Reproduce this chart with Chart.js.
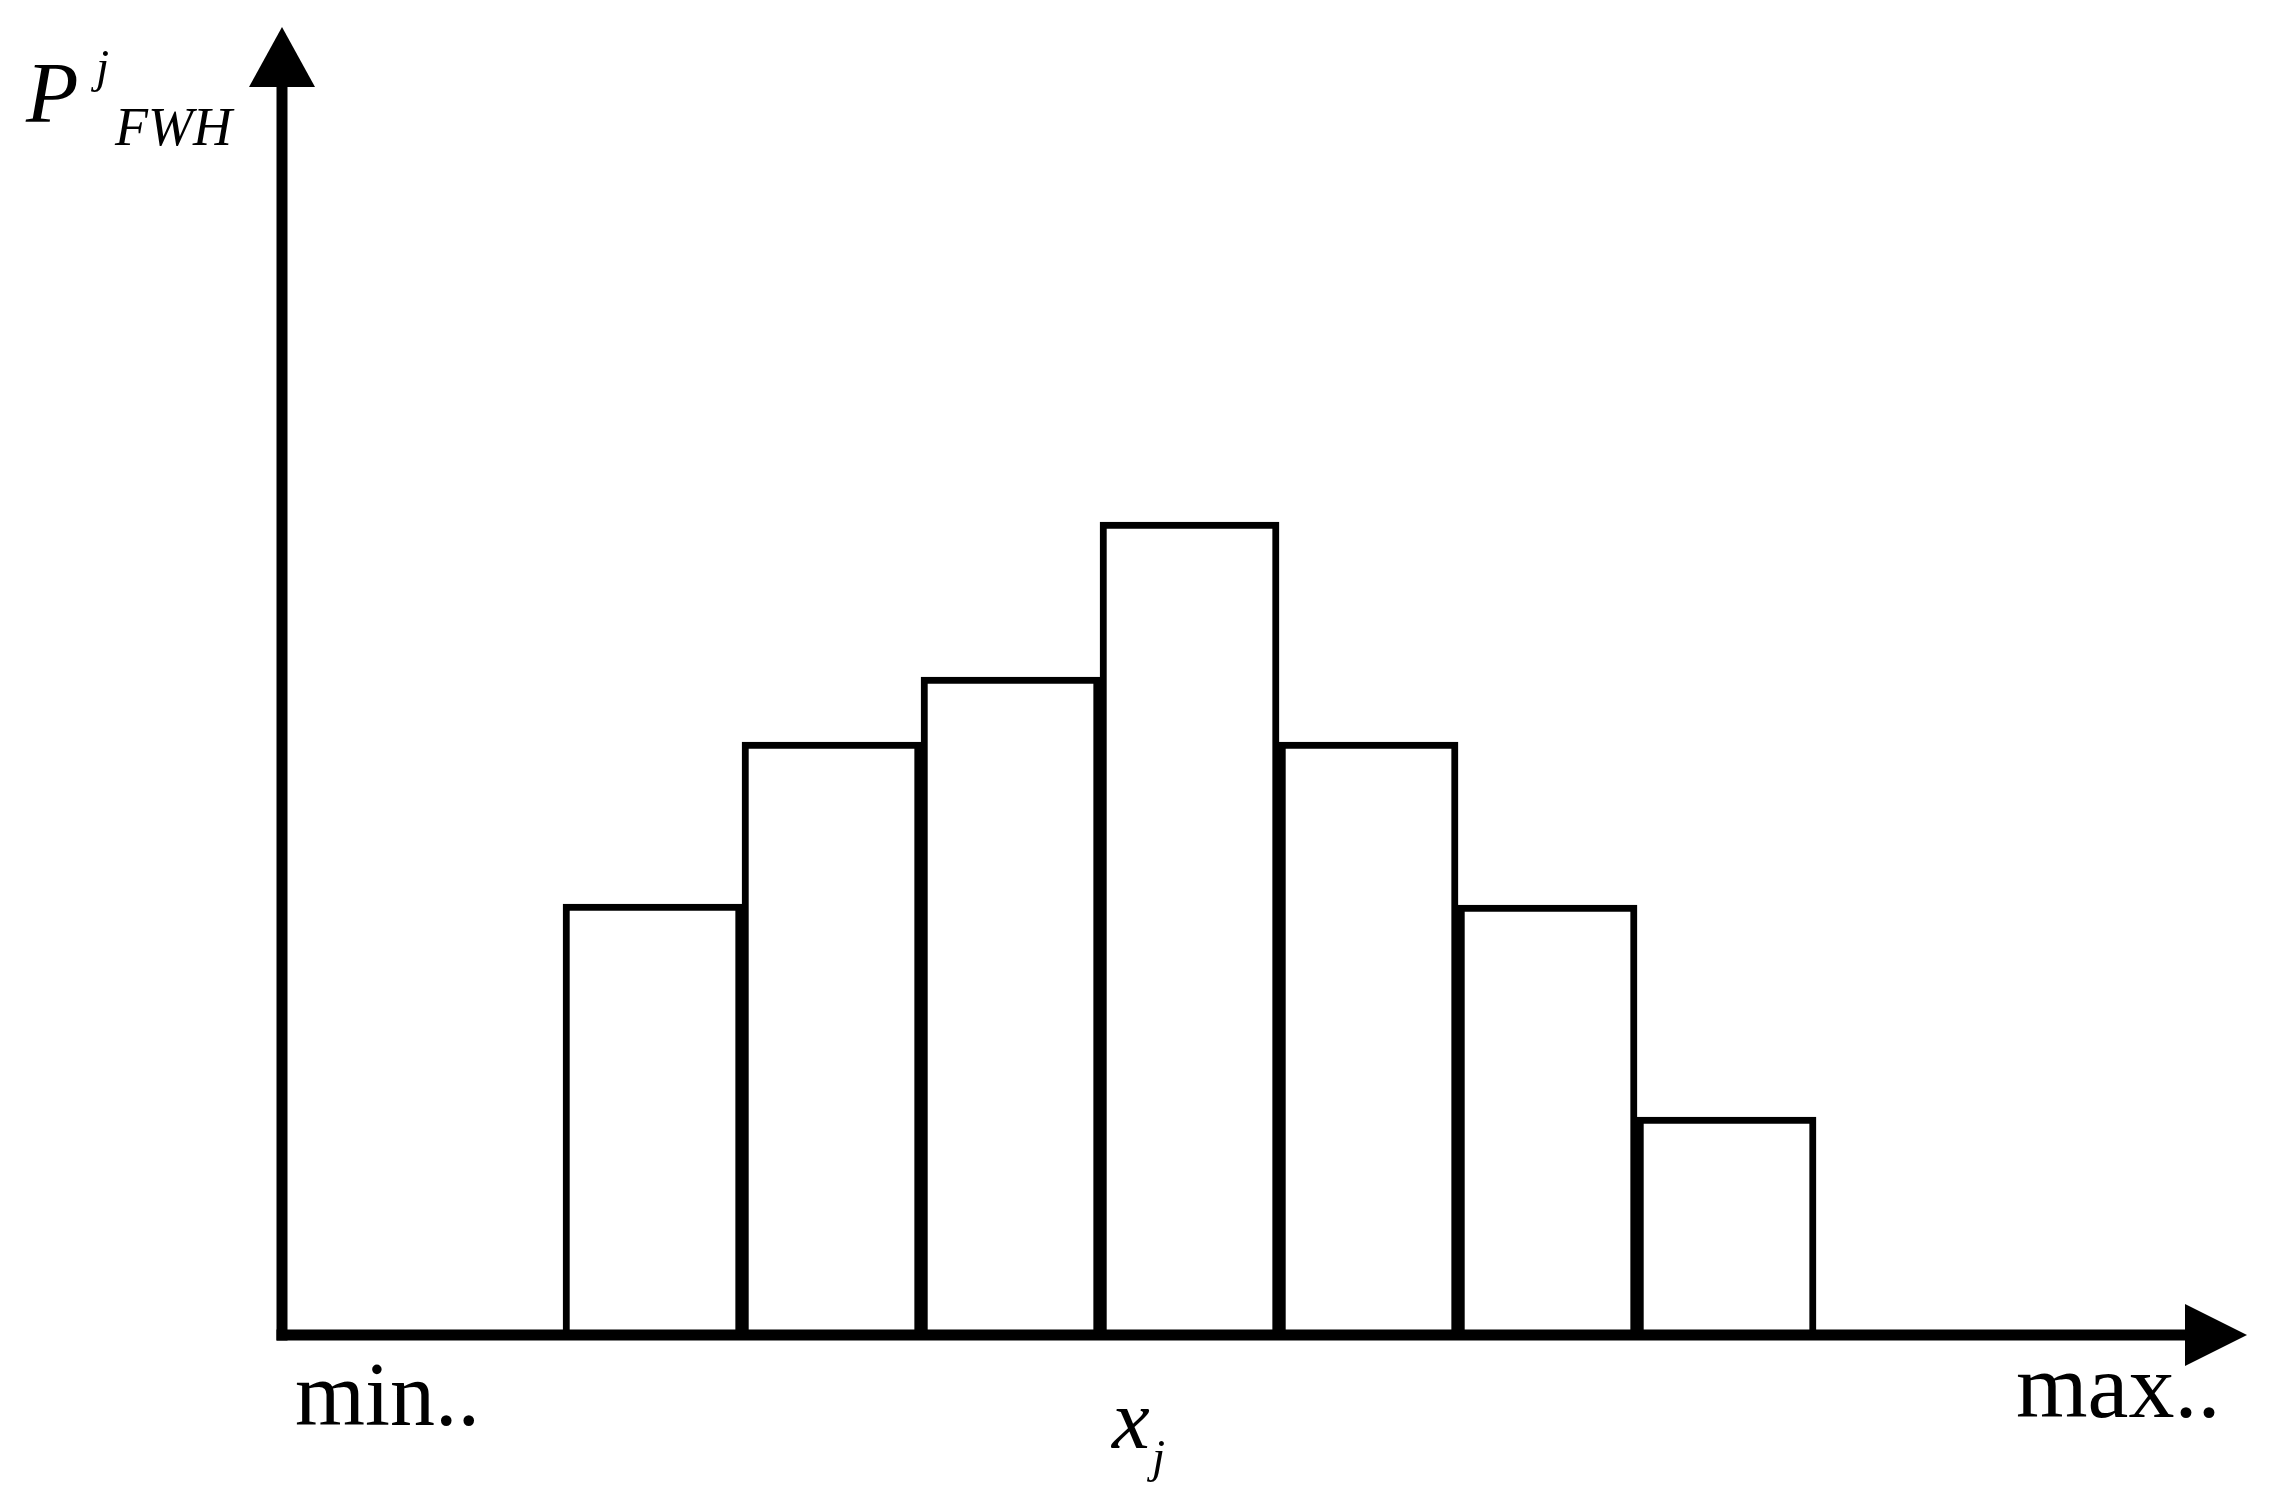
<!DOCTYPE html>
<html>
<head>
<meta charset="utf-8">
<script src="https://cdn.jsdelivr.net/npm/chart.js@4.4.1/dist/chart.umd.min.js"></script>
<style>
  html, body { margin: 0; padding: 0; background: #fff; }
  #wrap { width: 2285px; height: 1507px; position: relative; }
</style>
</head>
<body>
<div id="wrap"><canvas id="histChart"></canvas></div>
<script>
// ビンの中心 (x_j) と各ビンの確率 P^j_FWH
const binCenters = [2.07, 3.07, 4.07, 5.07, 6.07, 7.07, 8.07];
const binValues = [4.31, 5.93, 6.58, 8.13, 5.93, 4.30, 2.18];

// 軸の範囲
const xRange = [0, 11];
const yRange = [0, 13.08];

// 軸ラベル
const labelMin = 'min..';
const labelMax = 'max..';

const serif = '"Liberation Serif", "DejaVu Serif", serif';

// 矢印付きの軸とテキストを描くプラグイン
const axesPlugin = {
    id: 'arrowAxes',
    afterDatasetsDraw(chart) {
        const ctx = chart.ctx;
        const a = chart.chartArea;
        const lw = 11;
        ctx.save();
        ctx.fillStyle = '#000';

        // y軸
        ctx.fillRect(a.left - lw / 2, a.top + 60, lw, a.bottom - a.top - 60 + lw / 2);
        ctx.beginPath();
        ctx.moveTo(a.left, a.top);
        ctx.lineTo(a.left - 33, a.top + 60);
        ctx.lineTo(a.left + 33, a.top + 60);
        ctx.closePath();
        ctx.fill();

        // x軸
        const tip = a.right - 4;
        ctx.fillRect(a.left - lw / 2, a.bottom - lw / 2, tip - a.left - 60 + lw / 2, lw);
        ctx.beginPath();
        ctx.moveTo(tip, a.bottom);
        ctx.lineTo(tip - 62, a.bottom - 31);
        ctx.lineTo(tip - 62, a.bottom + 31);
        ctx.closePath();
        ctx.fill();

        // テキスト
        ctx.textAlign = 'left';
        ctx.textBaseline = 'alphabetic';
        ctx.font = 'italic 86px ' + serif;
        ctx.fillText('P', 26, 122);
        ctx.font = 'italic 47px ' + serif;
        ctx.fillText('j', 96, 82);
        ctx.font = 'italic 54px ' + serif;
        ctx.fillText('FWH', 115, 145);

        ctx.font = '90px ' + serif;
        ctx.fillText(labelMin, 295, 1425);
        ctx.font = '92px ' + serif;
        ctx.fillText(labelMax, 2016, 1417);

        ctx.font = 'italic 85px ' + serif;
        ctx.fillText('x', 1112, 1448);
        ctx.font = 'italic 47px ' + serif;
        ctx.fillText('j', 1152, 1472);
        ctx.restore();
    }
};

function createChart() {
    const ctx = document.getElementById('histChart').getContext('2d');
    new Chart(ctx, {
        type: 'bar',
        data: {
            datasets: [{
                data: binCenters.map((x, i) => ({ x: x, y: binValues[i] })),
                backgroundColor: '#fff',
                borderColor: '#000',
                borderWidth: 7,
                barPercentage: 1,
                categoryPercentage: 1
            }]
        },
        options: {
            responsive: true,
            maintainAspectRatio: false,
            animation: false,
            layout: {
                padding: { left: 282, right: 34, top: 27, bottom: 172 }
            },
            plugins: {
                legend: { display: false },
                tooltip: { enabled: false }
            },
            scales: {
                x: {
                    type: 'linear',
                    min: xRange[0],
                    max: xRange[1],
                    offset: false,
                    display: false,
                    ticks: { stepSize: 1 }
                },
                y: {
                    min: yRange[0],
                    max: yRange[1],
                    display: false
                }
            }
        },
        plugins: [axesPlugin]
    });
}

document.addEventListener('DOMContentLoaded', () => {
    createChart();
});
</script>
</body>
</html>
